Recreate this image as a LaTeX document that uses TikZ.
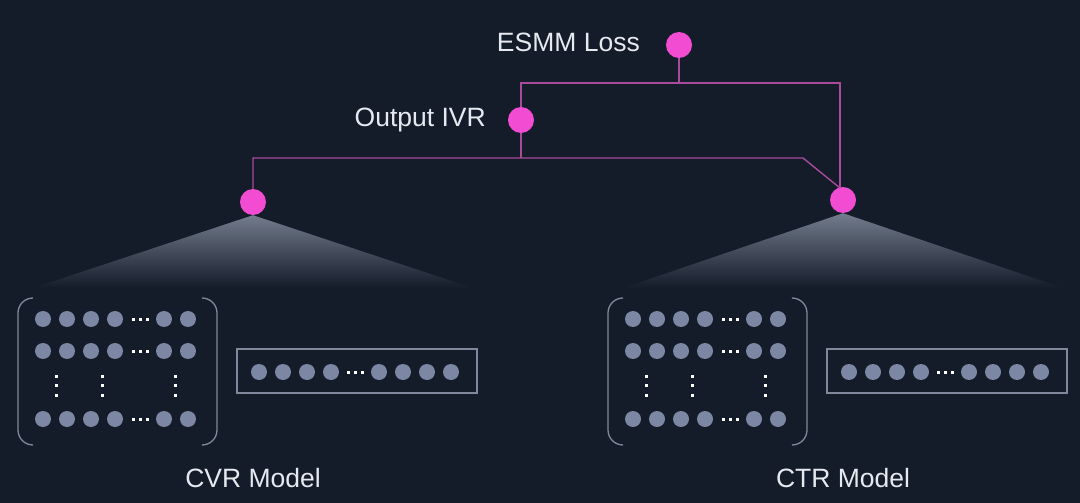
\documentclass[tikz,border=0pt]{standalone}
\usepackage{fontspec}
\setmainfont{Liberation Sans}
\usepackage{tikz}
\usepackage{xcolor}
\definecolor{night}{HTML}{141C2A}
\definecolor{pinkdot}{HTML}{F24DD2}
\definecolor{pinkline}{HTML}{A94A9C}
\definecolor{unitgrey}{HTML}{7C87A4}
\definecolor{framegrey}{HTML}{7F899B}
\definecolor{conegrey}{HTML}{737C8C}
\definecolor{labelwhite}{HTML}{E6EAF0}
\tikzset{
    pink-dot/.style = {circle, fill=pinkdot, minimum size=26pt, inner sep=0pt},
    link-line/.style = {draw=pinkline, line width=1.4pt},
    unit-dot/.style = {circle, fill=unitgrey, minimum size=16pt, inner sep=0pt},
    gap-dot/.style = {rectangle, fill=white, minimum size=3pt, inner sep=0pt},
    frame-line/.style = {draw=framegrey, line width=1.3pt},
    label-text/.style = {text=labelwhite, font=\fontsize{26.5}{30}\selectfont, inner sep=0pt},
}

\begin{document}
\begin{tikzpicture}[x=1pt, y=-1pt]
\fill[night] (0,0) rectangle (1080,503);

% outputs
\node[pink-dot] (loss) at (679,45) {};
\node[label-text, anchor=base east] (loss-text) at (640,52) {ESMM Loss};
\node[pink-dot] (ivr) at (521,120) {};
\node[label-text, anchor=base east] (ivr-text) at (486,127) {Output IVR};
\node[pink-dot] (cvr) at (253,202) {};
\node[pink-dot] (ctr) at (843,200) {};

\coordinate (top-bar) at (0,83);
\coordinate (low-bar) at (0,158);
\coordinate (ctr-in) at (840,188);
\coordinate (bend) at (803,158);

\draw[link-line] (loss) -- (loss |- top-bar);
\draw[link-line] (ivr) |- (ctr-in |- top-bar) -- (ctr-in);
\draw[link-line] (ivr) -- (ivr |- low-bar);
\draw[link-line] (cvr) |- (bend) -- (ctr-in);

% the two towers
\foreach \side/\xo/\title in {cvr/0/CVR, ctr/590/CTR} {
  \begin{scope}[xshift=\xo]
    \shade[top color=conegrey, bottom color=night] (\side.south) -- (473,288) -- (33,288) -- cycle;

    % embedding matrix
    \draw[frame-line, rounded corners=15pt] (33,298) -- (18,298) -- (18,445) -- (33,445);
    \draw[frame-line, rounded corners=15pt] (203,298) -- (217,298) -- (217,445) -- (203,445);
    \foreach \r/\y in {1/319, 2/351, 3/419} {
      \foreach \c/\x in {1/43, 2/67, 3/91, 4/115, 5/164, 6/188}
        \node[unit-dot] (\side-m\r-\c) at (\x,\y) {};
      \foreach \k/\x in {1/133, 2/140, 3/147}
        \node[gap-dot] (\side-h\r-\k) at (\x,\y) {};
    }
    \foreach \c/\x in {1/56, 2/102, 3/175}
      \foreach \k/\y in {1/376, 2/385.5, 3/395}
        \node[gap-dot] (\side-v\c-\k) at (\x,\y) {};

    % feature vector
    \node[frame-line, rectangle, minimum width=240pt, minimum height=44pt, inner sep=0pt] (\side-vec) at (357,371) {};
    \foreach \c/\x in {1/259, 2/283, 3/307, 4/331, 5/379, 6/403, 7/427, 8/451}
      \node[unit-dot] (\side-e\c) at (\x,372) {};
    \foreach \k/\x in {1/348, 2/355, 3/362}
      \node[gap-dot] (\side-g\k) at (\x,372) {};

    \node[label-text, anchor=base] (\side-label) at (253,487) {\title\ Model};
  \end{scope}
}
\end{tikzpicture}
\end{document}
